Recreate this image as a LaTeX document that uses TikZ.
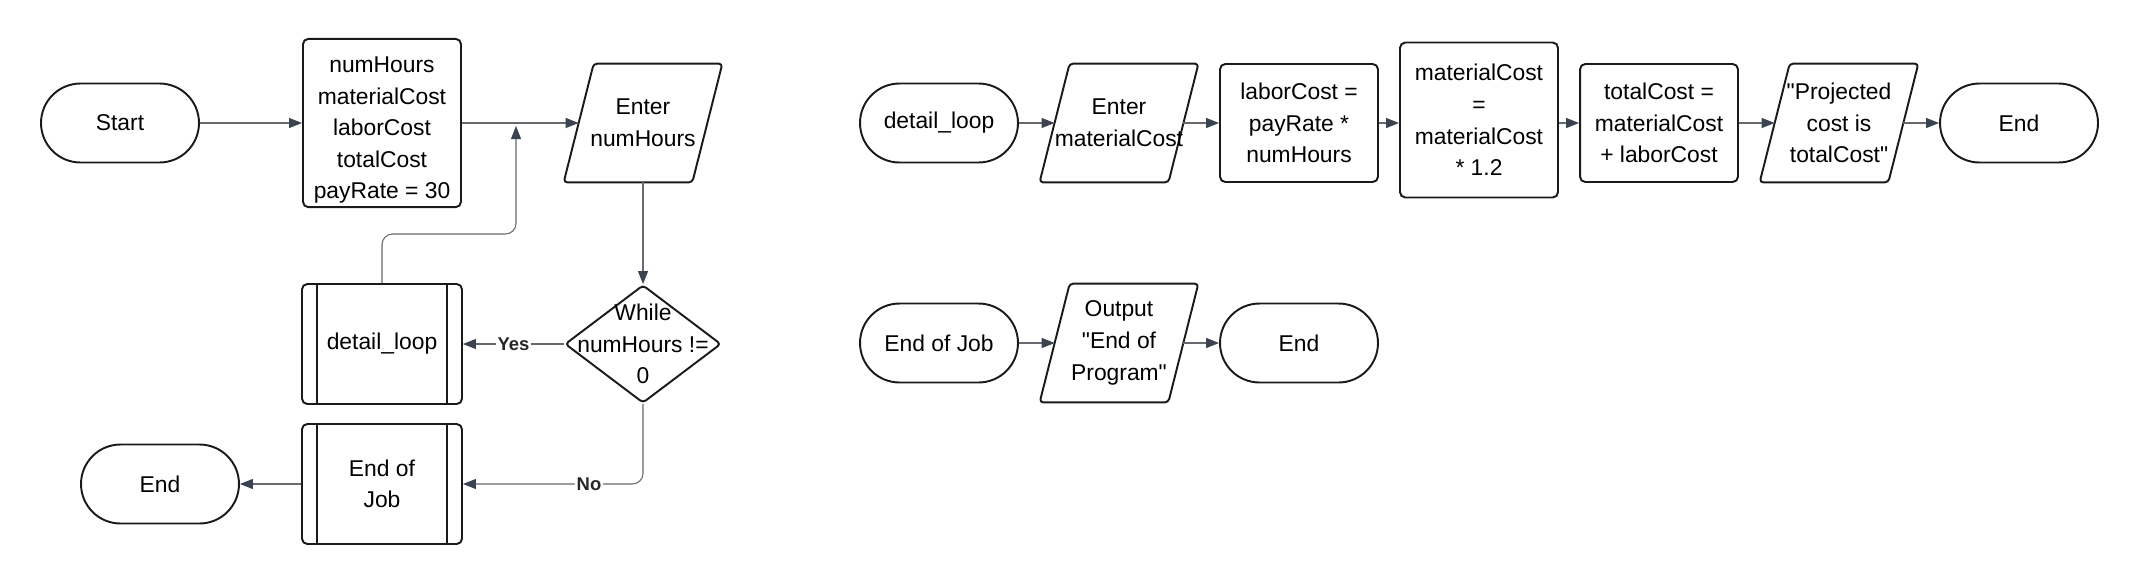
\documentclass[tikz,border=0pt]{standalone}
\usepackage{fontspec}
\setmainfont{Liberation Sans}[Ligatures=TeXOff]
\usepackage{xcolor}
\usetikzlibrary{shapes.geometric,arrows.meta}
\definecolor{linha}{HTML}{66696E}
\definecolor{ponta}{HTML}{3C4350}
\definecolor{borda}{HTML}{1A1A1A}

\begin{document}
\begin{tikzpicture}[x=0.02cm, y=0.02cm,
    font=\fontsize{13}{18}\selectfont,
    contorno/.style={draw=borda, line width=1.1pt},
    terminal/.style={contorno, rounded corners=0.79cm, minimum width=3.16cm, minimum height=1.58cm, align=center},
    processo/.style={contorno, rounded corners=3pt, minimum width=3.16cm, minimum height=2.36cm, inner sep=2pt, align=center},
    entrada/.style={minimum width=2.56cm, minimum height=2.36cm, inner sep=0pt, align=center,
        append after command={\pgfextra{\draw[contorno, rounded corners=2pt]
            ([xshift=0.3cm]\tikzlastnode.north west) -- ([xshift=0.3cm]\tikzlastnode.north east) --
            ([xshift=-0.3cm]\tikzlastnode.south east) -- ([xshift=-0.3cm]\tikzlastnode.south west) -- cycle;}}},
    sub/.style={contorno, rounded corners=3pt, minimum width=3.2cm, minimum height=2.4cm, align=center,
        path picture={\draw[contorno]
            ([xshift=0.3cm]path picture bounding box.north west) -- ([xshift=0.3cm]path picture bounding box.south west)
            ([xshift=-0.3cm]path picture bounding box.north east) -- ([xshift=-0.3cm]path picture bounding box.south east);}},
    decisao/.style={contorno, diamond, rounded corners=2pt, minimum width=3.12cm, minimum height=2.36cm, inner sep=0pt},
    seta/.style={draw=linha, line width=0.6pt, -{Triangle[length=0.26cm, width=0.2cm, color=ponta]}},
    rotulo/.style={fill=white, inner sep=1pt, text=black!85, font=\fontsize{10.5}{12}\selectfont\bfseries}]

    \useasboundingbox (0,0) rectangle (2140,-583);

    % Coluna 1 - fluxo principal
    \node[terminal] (inicio) at (120,-123) {Start};
    \node[processo, minimum height=3.32cm] (decl) at (382,-123) {\rule{0pt}{0.6cm}numHours\\materialCost\\laborCost\\totalCost\\payRate = 30};
    \node[entrada] (lerhoras) at (643,-123) {Enter\\numHours};
    \node[decisao, label={[align=center]center:{While\\numHours !=\\0}}] (cond) at (643,-344) {};
    \node[sub] (detalhe) at (382,-344) {detail\_loop};
    \node[sub] (fimtrab) at (382,-484) {End of\\Job};
    \node[terminal] (fim) at (160,-484) {End};

    % Ligacoes da coluna 1
    \draw[seta] (inicio) -- (decl);
    \draw[seta] (decl) -- (lerhoras);
    \draw[seta] (lerhoras) -- (cond);
    \draw[seta] (cond) -- node[rotulo] {Yes} (detalhe);
    \draw[seta, rounded corners=6pt] (cond.south) |- node[rotulo, pos=0.65] {No} (fimtrab.east);
    \coordinate (dobra) at (516,-234);
    \coordinate (retorno) at (516,-126);
    \draw[seta, rounded corners=6pt] (detalhe.north) |- (dobra) -- (retorno);
    \draw[seta] (fimtrab) -- (fim);

    % Linha 1 - detail_loop
    \node[terminal] (laco) at (939,-123) {detail\_loop};
    \node[entrada] (lermat) at (1119,-123) {Enter\\materialCost};
    \node[processo] (custmao) at (1299,-123) {laborCost =\\payRate *\\numHours};
    \node[processo, minimum height=3.1cm] (custmat) at (1479,-120) {materialCost\\=\\materialCost\\* 1.2};
    \node[processo] (custtot) at (1659,-123) {totalCost =\\materialCost\\+ laborCost};
    \node[entrada] (saida) at (1839,-123) {"Projected\\cost is\\totalCost"};
    \node[terminal] (fim2) at (2019,-123) {End};

    \draw[seta] (laco) -- (lermat);
    \draw[seta] (lermat) -- (custmao);
    \draw[seta] (custmao) -- (custmao -| custmat.west);
    \draw[seta] (custtot -| custmat.east) -- (custtot);
    \draw[seta] (custtot) -- (saida);
    \draw[seta] (saida) -- (fim2);

    % Linha 2 - End of Job
    \node[terminal] (fimjob) at (939,-343) {End of Job};
    \node[entrada] (saidafim) at (1119,-343) {Output\\"End of\\Program"};
    \node[terminal] (fim3) at (1299,-343) {End};

    \draw[seta] (fimjob) -- (saidafim);
    \draw[seta] (saidafim) -- (fim3);
\end{tikzpicture}
\end{document}
